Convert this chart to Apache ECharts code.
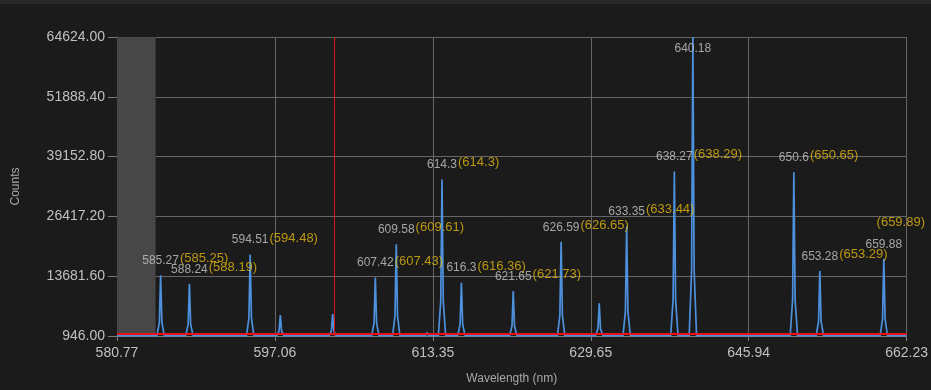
<!DOCTYPE html>
<html>
<head>
<meta charset="utf-8">
<script src="https://cdn.jsdelivr.net/npm/echarts@6/dist/echarts.min.js"></script>
<style>
  html, body { margin: 0; padding: 0; background: #1b1b1b; }
  #chart { width: 931px; height: 390px; }
</style>
</head>
<body>
<div id="chart"></div>
<script>
// Axis ranges and tick spacing
const xMin = 580.77, xMax = 662.23, xStep = 16.292;
const yMin = 946, yMax = 64624, yStep = 12735.6;

// Identified peaks: measured wavelength, peak counts and library reference line
const peakNm     = [585.27, 588.24, 594.51, 607.42, 609.58, 614.3, 616.3, 621.65, 626.59, 633.35, 638.27, 640.18, 650.6, 653.28, 659.88];
const peakCounts = [13900, 12000, 18300, 13400, 20500, 34300, 12300, 10500, 21000, 24300, 36000, 64624, 35800, 14800, 17400];
const refNm      = ['585.25', '588.19', '594.48', '607.43', '609.61', '614.3', '616.36', '621.73', '626.65', '633.44', '638.29', null, '650.65', '653.29', '659.89'];

// Excluded region at the short-wavelength end, cursor position and threshold level
const maskRange = [580.77, 584.75];
const cursorNm = 603.2;
const thresholdCounts = 1450;

// Recorded spectrum: [wavelength nm, counts]
const spectrum = [
  [580.77, 1000],
  [584.89, 1000], [585.14, 3840], [585.27, 13900], [585.40, 3840], [585.65, 1000],
  [587.86, 1000], [588.11, 3420], [588.24, 12000], [588.37, 3420], [588.62, 1000],
  [590.15, 1000], [590.30, 1300], [590.45, 1000],
  [594.13, 1000], [594.38, 4810], [594.51, 18300], [594.64, 4810], [594.89, 1000],
  [597.24, 1000], [597.49, 1970], [597.62, 5400], [597.75, 1970], [598.00, 1000],
  [602.64, 1000], [602.89, 2010], [603.02, 5600], [603.15, 2010], [603.40, 1000],
  [607.04, 1000], [607.29, 3730], [607.42, 13400], [607.55, 3730], [607.80, 1000],
  [609.20, 1000], [609.45, 5290], [609.58, 20500], [609.71, 5290], [609.96, 1000],
  [612.60, 1000], [612.75, 1700], [612.90, 1000],
  [613.92, 1000], [614.17, 8330], [614.30, 34300], [614.43, 8330], [614.68, 1000],
  [615.92, 1000], [616.17, 3490], [616.30, 12300], [616.43, 3490], [616.68, 1000],
  [621.27, 1000], [621.52, 3090], [621.65, 10500], [621.78, 3090], [622.03, 1000],
  [626.21, 1000], [626.46, 5400], [626.59, 21000], [626.72, 5400], [626.97, 1000],
  [630.14, 1000], [630.39, 2520], [630.52, 7900], [630.65, 2520], [630.90, 1000],
  [632.97, 1000], [633.22, 6130], [633.35, 24300], [633.48, 6130], [633.73, 1000],
  [637.89, 1000], [638.14, 8700], [638.27, 36000], [638.40, 8700], [638.65, 1000],
  [639.80, 1000], [640.05, 15000], [640.18, 64624], [640.31, 15000], [640.56, 1000],
  [650.22, 1000], [650.47, 8660], [650.60, 35800], [650.73, 8660], [650.98, 1000],
  [652.90, 1000], [653.15, 4040], [653.28, 14800], [653.41, 4040], [653.66, 1000],
  [659.50, 1000], [659.75, 4610], [659.88, 17400], [660.01, 4610], [660.26, 1000],
  [662.23, 1000]
];

const FONT = "'Liberation Sans', Arial, sans-serif";
const WHITE_SIZE = 12, YELLOW_SIZE = 13;
const WIDTH = 931;

const measureCtx = document.createElement('canvas').getContext('2d');
function textWidth(text, size) {
  measureCtx.font = size + 'px ' + FONT;
  return measureCtx.measureText(text).width;
}

const chart = echarts.init(document.getElementById('chart'), null, { renderer: 'canvas' });

const axisText = { color: '#c0c0c0', fontSize: 14, fontFamily: FONT };
const gridLine = { lineStyle: { color: '#666666', width: 1 } };

function buildOption(yellowLabels) {
  return {
    backgroundColor: '#1b1b1b',
    animation: false,
    graphic: [{
      type: 'rect', left: 0, top: 0, silent: true,
      shape: { width: WIDTH, height: 4 },
      style: { fill: '#282828' }
    }],
    grid: { left: 117, right: 22, top: 37, bottom: 53 },
    xAxis: {
      type: 'value', min: xMin, max: xMax, interval: xStep,
      name: 'Wavelength (nm)', nameLocation: 'middle', nameGap: 37,
      nameTextStyle: { color: '#a8a8a8', fontSize: 12, fontFamily: FONT },
      axisLine: { show: true, lineStyle: { color: '#7a7a7a' } },
      axisTick: { show: true, length: 5, lineStyle: { color: '#7a7a7a' } },
      axisLabel: Object.assign({ margin: 10, formatter: v => v.toFixed(2) }, axisText),
      splitLine: Object.assign({ show: true }, gridLine)
    },
    yAxis: {
      type: 'value', min: yMin, max: yMax, interval: yStep,
      name: 'Counts', nameLocation: 'middle', nameGap: 95, nameRotate: 90,
      nameTextStyle: { color: '#a8a8a8', fontSize: 12, fontFamily: FONT },
      axisLine: { show: true, lineStyle: { color: '#7a7a7a' } },
      axisTick: { show: true, length: 9, lineStyle: { color: '#7a7a7a' } },
      axisLabel: Object.assign({ margin: 12, formatter: v => v.toFixed(2) }, axisText),
      splitLine: Object.assign({ show: true }, gridLine)
    },
    series: [
      {
        type: 'line', name: 'spectrum', data: spectrum,
        showSymbol: false, symbol: 'none', z: 3,
        lineStyle: { color: '#4d91de', width: 1.7 },
        markArea: {
          silent: true,
          itemStyle: { color: '#474747' },
          label: { show: false },
          data: [[{ xAxis: maskRange[0] }, { xAxis: maskRange[1] }]]
        },
        markLine: {
          silent: true, symbol: 'none',
          label: { show: false },
          data: [
            { yAxis: thresholdCounts, lineStyle: { color: '#e8121a', width: 2, type: 'solid' } },
            { xAxis: cursorNm, lineStyle: { color: '#d8121a', width: 1, type: 'solid' } }
          ]
        }
      },
      {
        type: 'scatter', name: 'measured', z: 5,
        symbolSize: 1, itemStyle: { color: 'rgba(0,0,0,0)' },
        data: peakNm.map((nm, i) => ({
          value: [nm, peakCounts[i]],
          label: peakCounts[i] >= yMax
            ? { position: 'bottom', distance: 5 }
            : { position: 'top', distance: 8 }
        })),
        label: {
          show: true, formatter: p => String(p.value[0]),
          color: '#c8c8c8', fontSize: WHITE_SIZE, fontFamily: FONT
        }
      },
      {
        type: 'scatter', name: 'reference', z: 5,
        symbolSize: 1, itemStyle: { color: 'rgba(0,0,0,0)' },
        data: yellowLabels,
        label: {
          show: true, formatter: p => '(' + p.data.ref + ')',
          color: '#e4b80e', fontSize: YELLOW_SIZE, fontFamily: FONT
        }
      }
    ]
  };
}

// Reference labels sit just right of the measured label; when that would run
// past the right edge they are stacked above it instead.
function yellowData(toPixel) {
  const out = [];
  peakNm.forEach((nm, i) => {
    if (refNm[i] === null) return;
    const halfW = textWidth(String(nm), WHITE_SIZE) / 2;
    const yw = textWidth('(' + refNm[i] + ')', YELLOW_SIZE);
    let label = { position: 'top', distance: 8, align: 'left', offset: [halfW + 1, -1.5] };
    if (toPixel) {
      const px = toPixel([nm, peakCounts[i]])[0];
      if (px + halfW + 1 + yw > WIDTH - 4) {
        const right = WIDTH - 6;
        label = { position: 'top', distance: 8, align: 'right', offset: [right - px, -21] };
      }
    }
    out.push({ value: [nm, peakCounts[i]], ref: refNm[i], label });
  });
  return out;
}

chart.setOption(buildOption(yellowData(null)));
const toPixel = v => chart.convertToPixel({ gridIndex: 0 }, v);
chart.setOption(buildOption(yellowData(toPixel)), true);
</script>
</body>
</html>
